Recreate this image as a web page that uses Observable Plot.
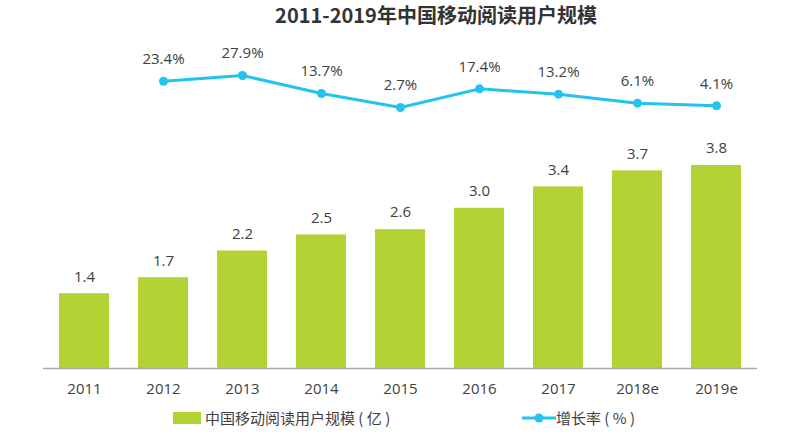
<!DOCTYPE html>
<html>
<head>
<meta charset="utf-8">
<script src="https://cdn.jsdelivr.net/npm/d3@7"></script>
<script src="https://cdn.jsdelivr.net/npm/@observablehq/plot@0.6"></script>
<style>
  body { margin: 0; background: #fff; font-family: "Noto Sans CJK SC", "Noto Sans", sans-serif; }
  #title { height: 30px; line-height: 30px; font-size: 20px; font-weight: bold; color: #333; text-align: center; padding-left: 72px; }
  #legend { height: 30px; font-size: 15px; color: #404040; position: relative; }
  .item { position: absolute; display: flex; align-items: center; top: 2px; }
</style>
</head>
<body>
<div id="title">2011-2019年中国移动阅读用户规模</div>
<div id="chart"></div>
<div id="legend">
  <div class="item" style="left:173px"><span style="display:inline-block;width:28px;height:12px;background:#b3d234;margin-right:4px"></span>中国移动阅读用户规模 ( 亿 )</div>
  <div class="item" style="left:522px"><svg width="34" height="12"><line x1="0" y1="6" x2="34" y2="6" stroke="#22c3ee" stroke-width="3"/><circle cx="17" cy="6" r="4.5" fill="#22c3ee"/></svg>增长率 ( % )</div>
</div>
<script>
const years = ["2011","2012","2013","2014","2015","2016","2017","2018e","2019e"];
const users = [1.4, 1.7, 2.2, 2.5, 2.6, 3.0, 3.4, 3.7, 3.8];
const rateYears = ["2012","2013","2014","2015","2016","2017","2018e","2019e"];
const rates = [23.4, 27.9, 13.7, 2.7, 17.4, 13.2, 6.1, 4.1];

const barData = years.map((y, i) => ({year: y, value: users[i]}));
const rateData = rateYears.map((y, i) => ({year: y, rate: rates[i]}));
// secondary axis for growth rate mapped into the primary y domain
const rateToY = d3.scaleLinear().domain([0, 30]).range([4.822, 5.535]);

const green = "#b3d234", cyan = "#22c3ee";
const plot = Plot.plot({
  width: 800,
  height: 375,
  marginLeft: 29,
  marginRight: 29,
  marginTop: 17,
  marginBottom: 37,
  style: {fontFamily: "'Open Sans', 'Noto Sans', sans-serif", fontSize: "15px", color: "#404040"},
  x: {domain: years, padding: 0.37, label: null},
  y: {domain: [0, 6], range: [338, 17.5], axis: null},
  marks: [
    Plot.barY(barData, {x: "year", y: "value", fill: green}),
    Plot.ruleY([0], {stroke: "#aaa", strokeWidth: 1.5, insetLeft: 14, insetRight: 14}),
    Plot.text(barData, {x: "year", y: "value", text: d => d.value.toFixed(1), dy: -17, fontSize: 15, fill: "#404040"}),
    Plot.line(rateData, {x: "year", y: d => rateToY(d.rate), stroke: cyan, strokeWidth: 3}),
    Plot.dot(rateData, {x: "year", y: d => rateToY(d.rate), r: 4.5, fill: cyan}),
    Plot.text(rateData, {x: "year", y: d => rateToY(d.rate), text: d => d.rate.toFixed(1) + "%", dy: -22, fontSize: 15, fill: "#404040"}),
    Plot.axisX({tickSize: 0, tickPadding: 15, fontSize: 15, fill: "#404040"})
  ]
});
document.getElementById("chart").appendChild(plot);
</script>
</body>
</html>
